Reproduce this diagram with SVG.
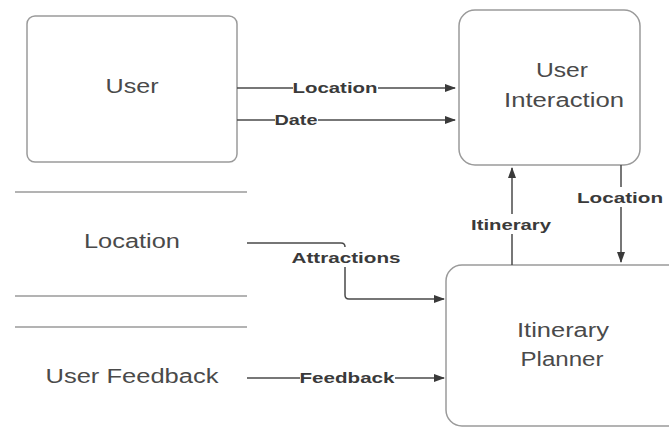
<svg xmlns="http://www.w3.org/2000/svg" width="669" height="427" viewBox="0 0 669 427">
<style>
.box{fill:#fff;stroke:#9a9a9a;stroke-width:1.5}
.store{stroke:#9a9a9a;stroke-width:1.5;fill:none}
.t{font-family:"Liberation Sans",Arial,sans-serif;font-size:20px;fill:#4a4a4a;text-anchor:middle}
.lbl{font-family:"Liberation Sans",Arial,sans-serif;font-size:15px;font-weight:bold;fill:#3a3a3a;text-anchor:middle}
.c{stroke:#4a4a4a;stroke-width:1.5;fill:none}
.bg{fill:#fff}
</style>
<defs>
<marker id="ah" markerWidth="11" markerHeight="8" refX="10" refY="4" orient="auto" markerUnits="userSpaceOnUse">
<path d="M0,0 L11,4 L0,8 z" fill="#3a3a3a"/>
</marker>
</defs>
<rect width="669" height="427" fill="#fff"/>
<g id="user">
<rect class="box" x="27" y="16" width="210" height="146" rx="8"/>
<text class="t" x="132" y="93" textLength="53" lengthAdjust="spacingAndGlyphs">User</text>
</g>
<g id="user-interaction">
<rect class="box" x="459" y="10" width="181" height="155" rx="16"/>
<text class="t" x="562" y="77" textLength="52" lengthAdjust="spacingAndGlyphs">User</text>
<text class="t" x="564" y="107" textLength="120" lengthAdjust="spacingAndGlyphs">Interaction</text>
</g>
<g id="location-store">
<line class="store" x1="15" y1="192" x2="247" y2="192"/>
<line class="store" x1="15" y1="296" x2="247" y2="296"/>
<text class="t" x="132" y="248" textLength="96" lengthAdjust="spacingAndGlyphs">Location</text>
</g>
<g id="feedback-store">
<line class="store" x1="15" y1="327" x2="247" y2="327"/>
<text class="t" x="132" y="383" textLength="173" lengthAdjust="spacingAndGlyphs">User Feedback</text>
</g>
<g id="itinerary-planner">
<rect class="box" x="446" y="265" width="240" height="161" rx="16"/>
<text class="t" x="563" y="337" textLength="92" lengthAdjust="spacingAndGlyphs">Itinerary</text>
<text class="t" x="562" y="366" textLength="83" lengthAdjust="spacingAndGlyphs">Planner</text>
</g>
<g id="connectors">
<path class="c" d="M237,88 H455" marker-end="url(#ah)"/>
<rect class="bg" x="293" y="79" width="85" height="16"/>
<text class="lbl" x="335" y="93" textLength="85" lengthAdjust="spacingAndGlyphs">Location</text>
<path class="c" d="M237,120 H455" marker-end="url(#ah)"/>
<rect class="bg" x="275" y="111" width="43" height="16"/>
<text class="lbl" x="296" y="125" textLength="43" lengthAdjust="spacingAndGlyphs">Date</text>
<path class="c" d="M512,265 V168" marker-end="url(#ah)"/>
<rect class="bg" x="468" y="214" width="88" height="20"/>
<text class="lbl" x="511" y="230" textLength="80" lengthAdjust="spacingAndGlyphs">Itinerary</text>
<path class="c" d="M621,165 V262" marker-end="url(#ah)"/>
<rect class="bg" x="574" y="187" width="92" height="20"/>
<text class="lbl" x="620" y="203" textLength="86" lengthAdjust="spacingAndGlyphs">Location</text>
<path class="c" d="M247,243 H341 Q345,243 345,247 V295 Q345,299 349,299 H444" marker-end="url(#ah)"/>
<rect class="bg" x="290" y="247" width="114" height="20"/>
<text class="lbl" x="346" y="263" textLength="109" lengthAdjust="spacingAndGlyphs">Attractions</text>
<path class="c" d="M247,378 H444" marker-end="url(#ah)"/>
<rect class="bg" x="300" y="369" width="95" height="16"/>
<text class="lbl" x="347" y="383" textLength="95" lengthAdjust="spacingAndGlyphs">Feedback</text>
</g>
</svg>
